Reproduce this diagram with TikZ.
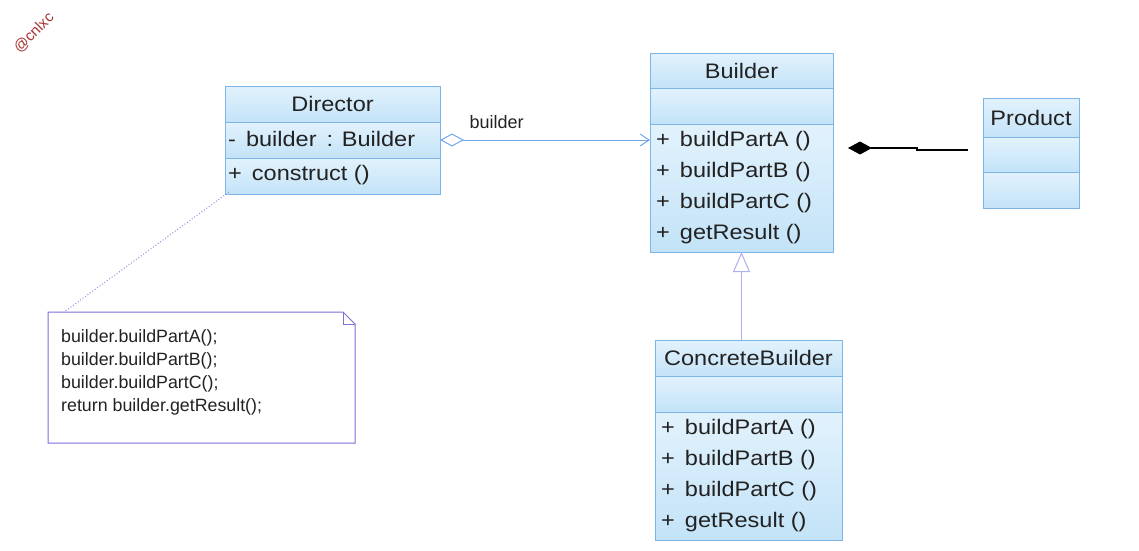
\documentclass[tikz,border=0pt]{standalone}
\usepackage{fontspec}
\setmainfont{Liberation Sans}
\newfontfamily\clsfont[FakeStretch=1.12]{Liberation Sans}
\usetikzlibrary{arrows.meta,shapes.misc}
\definecolor{boxline}{HTML}{7DB6E6}
\definecolor{boxtop}{HTML}{E2F2FC}
\definecolor{boxbot}{HTML}{C3E3F8}
\definecolor{txt}{HTML}{222222}
\definecolor{aggline}{HTML}{6FA6E6}
\definecolor{genline}{HTML}{AEB0EE}
\definecolor{noteline}{HTML}{7A70D8}
\definecolor{wm}{HTML}{A83232}
\tikzset{
  comp/.style={draw=boxline, line width=1pt, top color=boxtop, bottom color=boxbot,
    rectangle, inner sep=0pt, outer sep=0pt, text=txt, font=\clsfont\fontsize{21}{24}\selectfont},
  memb/.style={anchor=west, text=txt, inner sep=0pt, font=\clsfont\fontsize{21}{24}\selectfont},
}
\begin{document}
\begin{tikzpicture}[x=1pt,y=-1pt]
\useasboundingbox (0,0) rectangle (1139,550);
% watermark
\node[rotate=45, text=wm, inner sep=0pt, font=\fontsize{15}{17}\selectfont] (wm) at (34,33) {@cnlxc};

% Director
\node[comp, minimum width=215, minimum height=36] (dirT) at (332.5,104) {Director};
\node[comp, minimum width=215, minimum height=36, anchor=north] (dirA) at (dirT.south) {};
\node[comp, minimum width=215, minimum height=36, anchor=north] (dirO) at (dirA.south) {};
\node[memb] (dirA1) at (228,139) {-\, builder\, : Builder};
\node[memb] (dirO1) at (228,175) {+\, construct ()};

% Builder
\node[comp, minimum width=183, minimum height=35] (bT) at (741.5,70.5) {Builder};
\node[comp, minimum width=183, minimum height=36, anchor=north] (bA) at (bT.south) {};
\node[comp, minimum width=183, minimum height=128, anchor=north] (bO) at (bA.south) {};
\node[memb] (bO1) at (656,141) {+\, buildPartA ()};
\node[memb] (bO2) at (656,172) {+\, buildPartB ()};
\node[memb] (bO3) at (656,203) {+\, buildPartC ()};
\node[memb] (bO4) at (656,234) {+\, getResult ()};

% Product
\node[comp, minimum width=96, minimum height=39] (pT) at (1031,117.5) {Product};
\node[comp, minimum width=96, minimum height=35, anchor=north] (pA) at (pT.south) {};
\node[comp, minimum width=96, minimum height=36, anchor=north] (pO) at (pA.south) {};

% ConcreteBuilder
\node[comp, minimum width=187, minimum height=36] (cT) at (748.5,358) {ConcreteBuilder};
\node[comp, minimum width=187, minimum height=36, anchor=north] (cA) at (cT.south) {};
\node[comp, minimum width=187, minimum height=128, anchor=north] (cO) at (cA.south) {};
\node[memb] (cO1) at (661,429) {+\, buildPartA ()};
\node[memb] (cO2) at (661,460) {+\, buildPartB ()};
\node[memb] (cO3) at (661,491) {+\, buildPartC ()};
\node[memb] (cO4) at (661,522) {+\, getResult ()};

% Note
\coordinate (n1) at (48,312);
\coordinate (n2) at (343,312);
\coordinate (n3) at (355,324);
\coordinate (n4) at (355,443);
\coordinate (n5) at (48,443);
\draw[noteline, line width=1pt, fill=white] (n1) -- (n2) -- (n3) -- (n4) -- (n5) -- cycle;
\draw[noteline, line width=0.8pt] (n2) -- (343,324) -- (n3);
\node[anchor=north west, inner sep=0pt, align=left, text=txt,
  font=\fontsize{17.8}{23}\selectfont] (noteT) at (61,329)
  {builder.buildPartA();\\builder.buildPartB();\\builder.buildPartC();\\return builder.getResult();};
\coordinate (noteC) at (64,312);
\coordinate (dirC) at (229,192);
\draw[noteline!80, line width=1pt, dotted] (dirC) -- (noteC);

% Aggregation
\draw[aggline, line width=1pt, {Diamond[open,length=24pt,width=13pt,fill=white]}-{Straight Barb[length=9pt,width=12pt]}]
  (dirA.east) -- node[above=7pt, pos=0.27, text=txt, font=\fontsize{18}{20}\selectfont] (aggL) {builder} (bA.south west |- dirA.east);

% Composition
\coordinate (compE) at (968,150);
\draw[black, line width=1.4pt, {Diamond[length=24pt,width=13pt]}-] (848,148) -- (917,148) -- (917,150) -- (compE);

% Generalization
\draw[genline, line width=1pt, {Triangle[open,length=20pt,width=17pt,fill=white]}-] (bO.south) -- (cT.north -| bO.south);
\end{tikzpicture}
\end{document}
